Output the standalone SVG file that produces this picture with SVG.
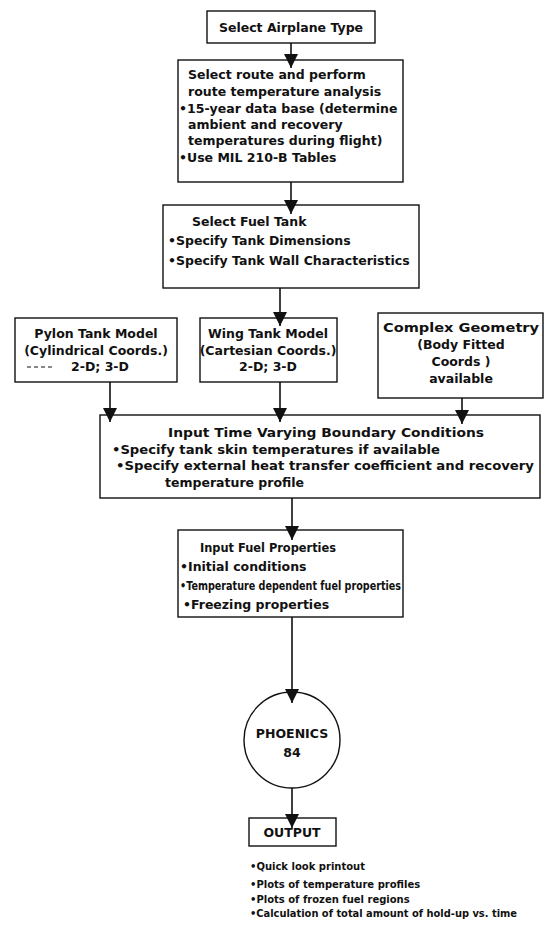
<svg xmlns="http://www.w3.org/2000/svg" width="545" height="939" viewBox="0 0 545 939">
  <style>
    .box { fill: #fff; stroke: #111; stroke-width: 1.4; }
    .t { font-family: "DejaVu Sans", "Liberation Sans", sans-serif; font-weight: bold; font-size: 12.5px; fill: #111; }
    .c { text-anchor: middle; }
    .small { font-size: 10px; }
    .link { stroke: #111; stroke-width: 1.6; fill: none; marker-end: url(#head); }
  </style>
  <defs>
    <marker id="head" viewBox="0 0 14 14" refX="14" refY="7" markerWidth="14" markerHeight="14" markerUnits="userSpaceOnUse" orient="auto">
      <path d="M0,0 L14,7 L0,14 z" fill="#111"/>
    </marker>
  </defs>

  <rect width="545" height="939" fill="#fff"/>

  <g id="airplane">
    <rect class="box" x="207" y="11" width="168" height="32"/>
    <text class="t c" x="291" y="32" font-size="13">Select Airplane Type</text>
  </g>

  <g id="route">
    <rect class="box" x="178" y="60" width="225" height="122"/>
    <text class="t" x="188" y="79">Select route and perform</text>
    <text class="t" x="188" y="96">route temperature analysis</text>
    <text class="t" x="179" y="113">•15-year data base (determine</text>
    <text class="t" x="188" y="129">ambient and recovery</text>
    <text class="t" x="188" y="145">temperatures during flight)</text>
    <text class="t" x="179" y="162">•Use MIL 210-B Tables</text>
  </g>

  <g id="fuel-tank">
    <rect class="box" x="163" y="205" width="256" height="83"/>
    <text class="t" x="192" y="226">Select Fuel Tank</text>
    <text class="t" x="168" y="245">•Specify Tank Dimensions</text>
    <text class="t" x="168" y="265">•Specify Tank Wall Characteristics</text>
  </g>

  <g id="pylon">
    <rect class="box" x="15" y="318" width="162" height="64"/>
    <text class="t c" x="96" y="338">Pylon Tank Model</text>
    <text class="t c" x="96" y="355">(Cylindrical Coords.)</text>
    <path d="M27,367 H55" stroke="#111" stroke-width="1.2" stroke-dasharray="4 3"/>
    <text class="t c" x="100" y="371">2-D; 3-D</text>
  </g>

  <g id="wing">
    <rect class="box" x="200" y="318" width="137" height="64"/>
    <text class="t c" x="268" y="338">Wing Tank Model</text>
    <text class="t c" x="268" y="355">(Cartesian Coords.)</text>
    <text class="t c" x="268" y="371">2-D; 3-D</text>
  </g>

  <g id="complex">
    <rect class="box" x="378" y="313" width="165" height="85"/>
    <text class="t c" x="461" y="332" textLength="156" lengthAdjust="spacingAndGlyphs">Complex Geometry</text>
    <text class="t c" x="461" y="349">(Body Fitted</text>
    <text class="t c" x="461" y="366">Coords )</text>
    <text class="t c" x="461" y="383">available</text>
  </g>

  <g id="boundary">
    <rect class="box" x="100" y="415" width="440" height="83"/>
    <text class="t" x="168" y="437" textLength="316" lengthAdjust="spacingAndGlyphs">Input Time Varying Boundary Conditions</text>
    <text class="t" x="112" y="454" textLength="328" lengthAdjust="spacingAndGlyphs">•Specify tank skin temperatures if available</text>
    <text class="t" x="116" y="470" textLength="418" lengthAdjust="spacingAndGlyphs">•Specify external heat transfer coefficient and recovery</text>
    <text class="t" x="165" y="487">temperature profile</text>
  </g>

  <g id="fuel-props">
    <rect class="box" x="178" y="530" width="225" height="87"/>
    <text class="t" x="200" y="552" textLength="136" lengthAdjust="spacingAndGlyphs">Input Fuel Properties</text>
    <text class="t" x="180" y="571">•Initial conditions</text>
    <text class="t" x="180" y="590" font-size="11.5" textLength="221" lengthAdjust="spacingAndGlyphs">•Temperature dependent fuel properties</text>
    <text class="t" x="183" y="609">•Freezing properties</text>
  </g>

  <g id="phoenics">
    <circle class="box" cx="292" cy="740" r="48"/>
    <text class="t c" x="292" y="738">PHOENICS</text>
    <text class="t c" x="292" y="757">84</text>
  </g>

  <g id="output">
    <rect class="box" x="249" y="818" width="87" height="28"/>
    <text class="t c" x="292" y="837">OUTPUT</text>
  </g>

  <g id="output-list">
    <text class="t small" x="250" y="870">•Quick look printout</text>
    <text class="t small" x="250" y="888">•Plots of temperature profiles</text>
    <text class="t small" x="250" y="903">•Plots of frozen fuel regions</text>
    <text class="t small" x="250" y="917" textLength="267" lengthAdjust="spacingAndGlyphs">•Calculation of total amount of hold-up vs. time</text>
  </g>

  <g id="connectors">
    <line class="link" x1="291" y1="43" x2="291" y2="68"/>
    <line class="link" x1="291" y1="182" x2="291" y2="214"/>
    <line class="link" x1="280" y1="288" x2="280" y2="326"/>
    <line class="link" x1="110" y1="382" x2="110" y2="422"/>
    <line class="link" x1="280" y1="382" x2="280" y2="422"/>
    <line class="link" x1="462" y1="398" x2="462" y2="424"/>
    <line class="link" x1="292" y1="498" x2="292" y2="540"/>
    <line class="link" x1="292" y1="617" x2="292" y2="703"/>
    <line class="link" x1="292" y1="788" x2="292" y2="828"/>
  </g>
</svg>
